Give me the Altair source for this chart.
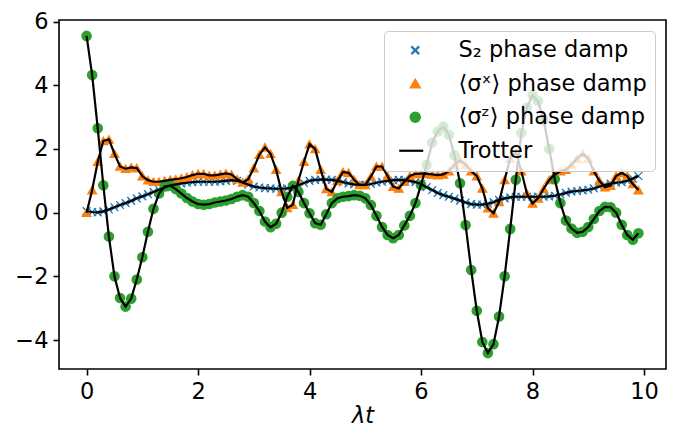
import altair as alt
import pandas as pd

# time grid (lambda t)
t_vals = [round(0.1 * i, 1) for i in range(100)]

# S2 phase damp
s2_vals = [0.05, 0.02, 0.01, 0.04, 0.10, 0.17, 0.24, 0.30, 0.37, 0.45,
           0.51, 0.58, 0.65, 0.72, 0.79, 0.85, 0.89, 0.92, 0.94, 0.96,
           0.97, 0.97, 0.97, 0.97, 0.98, 1.00, 1.02, 1.00, 0.95, 0.88,
           0.82, 0.79, 0.77, 0.76, 0.75, 0.75, 0.76, 0.80, 0.86, 0.93,
           1.00, 1.03, 1.04, 1.04, 1.03, 1.00, 0.96, 0.92, 0.89, 0.87,
           0.87, 0.90, 0.94, 0.97, 1.00, 1.02, 1.03, 1.02, 1.00, 0.96,
           0.90, 0.80, 0.71, 0.62, 0.55, 0.50, 0.44, 0.38, 0.32, 0.27,
           0.25, 0.25, 0.28, 0.33, 0.40, 0.45, 0.48, 0.50, 0.50, 0.50,
           0.50, 0.50, 0.50, 0.51, 0.53, 0.57, 0.62, 0.66, 0.68, 0.70,
           0.72, 0.76, 0.82, 0.87, 0.91, 0.94, 0.96, 1.00, 1.07, 1.15]

# <sigma^x> phase damp
sx_vals = [0.00, 0.71, 1.60, 2.25, 2.30, 1.85, 1.45, 1.38, 1.42, 1.40,
           1.15, 1.02, 0.97, 0.97, 1.00, 1.03, 1.05, 1.08, 1.12, 1.18,
           1.22, 1.22, 1.17, 1.17, 1.20, 1.23, 1.20, 1.05, 0.95, 1.05,
           1.40, 1.82, 2.05, 1.85, 1.35, 0.65, 0.15, 0.25, 1.00, 1.60,
           2.15, 2.00, 1.35, 0.75, 0.65, 1.00, 1.28, 1.25, 1.03, 0.87,
           0.87, 1.13, 1.45, 1.45, 1.15, 0.82, 0.76, 0.97, 1.15, 1.22,
           1.23, 1.22, 1.20, 1.18, 1.20, 1.30, 1.50, 1.65, 1.50, 1.30,
           1.15, 0.76, 0.14, -0.02, 0.34, 1.03, 1.70, 1.90, 1.30, 0.60,
           0.29, 0.45, 0.75, 1.03, 1.20, 1.30, 1.35, 1.50, 1.70, 1.85,
           1.70, 1.30, 1.00, 0.80, 0.85, 1.15, 1.25, 1.15, 0.90, 0.71]

# <sigma^z> phase damp
sz_vals = [5.55, 4.32, 2.65, 0.86, -0.75, -2.00, -2.68, -2.95, -2.70, -2.10,
           -1.40, -0.60, 0.12, 0.60, 0.82, 0.85, 0.74, 0.60, 0.46, 0.35,
           0.27, 0.25, 0.27, 0.32, 0.35, 0.38, 0.43, 0.50, 0.55, 0.50,
           0.30, 0.05, -0.28, -0.46, -0.35, 0.00, 0.50, 0.84, 0.65, 0.30,
           -0.02, -0.33, -0.38, -0.05, 0.30, 0.45, 0.50, 0.52, 0.55, 0.53,
           0.45, 0.24, -0.10, -0.45, -0.70, -0.80, -0.70, -0.40, -0.10, 0.30,
           0.87, 1.50, 2.20, 2.55, 2.70, 2.45, 1.80, 0.92, -0.39, -1.80,
           -3.08, -4.06, -4.41, -4.13, -3.26, -2.00, -0.51, 1.03, 2.50, 3.30,
           3.69, 3.50, 2.90, 2.00, 1.05, 0.30, -0.25, -0.50, -0.63, -0.60,
           -0.45, -0.20, 0.05, 0.18, 0.17, 0.00, -0.38, -0.70, -0.85, -0.65]

S2 = "S₂ phase damp"
SX = "⟨σˣ⟩ phase damp"
SZ = "⟨σᶻ⟩ phase damp"
TR = "Trotter"
domain = [S2, SX, SZ, TR]
colors = ["#1f77b4", "#ff7f0e", "#2ca02c", "#000000"]
XPATH = "M-1,-1L1,1M-1,1L1,-1"
shapes = [XPATH, "triangle-up", "circle", "M-3.2,0L1.6,0"]
sizes = [60, 100, 85, 400]

rows = []
for name, vals in [(S2, s2_vals), (SX, sx_vals), (SZ, sz_vals)]:
    for t, v in zip(t_vals, vals):
        rows.append({"t": t, "v": v, "series": name, "group": name})
df_pts = pd.DataFrame(rows)
df_lines = df_pts.copy()
df_lines["series"] = TR

xenc = alt.X("t:Q", scale=alt.Scale(domain=[-0.495, 10.395], nice=False, zero=False),
             axis=alt.Axis(values=[0, 2, 4, 6, 8, 10], title="λt", grid=False))
yenc = alt.Y("v:Q", scale=alt.Scale(domain=[-4.91, 6.05], nice=False, zero=False),
             axis=alt.Axis(values=[-4, -2, 0, 2, 4, 6], title=None, grid=False))

leg = alt.Legend(title=None, labelExpr="datum.label + '\u00a0\u00a0\u00a0'")
pts = alt.Chart(df_pts).mark_point(filled=True, opacity=1, strokeWidth=1.3).encode(
    x=xenc, y=yenc,
    color=alt.Color("series:N", scale=alt.Scale(domain=domain, range=colors), legend=leg),
    stroke=alt.Stroke("series:N", scale=alt.Scale(domain=domain, range=colors), legend=leg),
    shape=alt.Shape("series:N", scale=alt.Scale(domain=domain, range=shapes), legend=leg),
    size=alt.Size("series:N", scale=alt.Scale(domain=domain, range=sizes), legend=leg),
)
lines = alt.Chart(df_lines).mark_line(strokeWidth=2.2).encode(
    x=xenc, y=yenc,
    color=alt.Color("series:N", scale=alt.Scale(domain=domain, range=colors), legend=leg),
    detail="group:N",
    order="t:Q",
)

chart = alt.layer(pts, lines).properties(
    width=607, height=349,
    autosize="none",
    padding={"left": 59, "top": 20, "right": 8, "bottom": 60},
).configure_view(
    stroke="black", strokeWidth=1.6
).configure_axis(
    labelFont="DejaVu Sans", labelFontSize=22.5, labelColor="black",
    tickColor="black", tickSize=6, tickWidth=1.6, labelPadding=5, domain=False,
    titleFont="DejaVu Sans", titleFontSize=22.5, titleFontStyle="italic",
    titleFontWeight="normal", titleColor="black", titlePadding=2,
).configure_legend(
    orient="top-right", offset=11, fillColor="rgba(255,255,255,0.8)",
    strokeColor="#cccccc", cornerRadius=4, padding=8, symbolOffset=12,
    labelFont="DejaVu Sans", labelFontSize=22.5, labelColor="black", labelLimit=500,
    labelOffset=32, rowPadding=10.5, symbolStrokeWidth=2.2, zindex=1,
)

chart.save("out.html", embed_options={"renderer": "svg", "actions": False})
